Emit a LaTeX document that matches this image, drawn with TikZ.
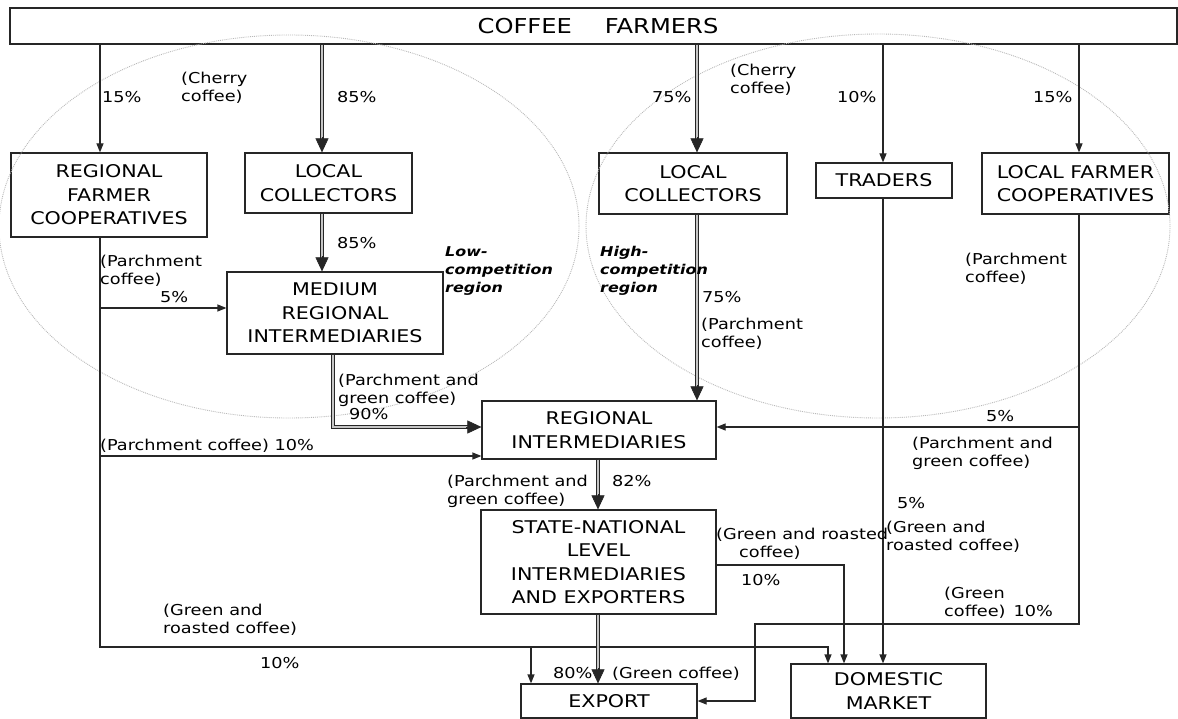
\documentclass[tikz,border=0pt]{standalone}
\usepackage{fontspec}
\setmainfont{DejaVu Sans}[FakeStretch=1.18]
\usetikzlibrary{arrows.meta,calc}
\definecolor{linec}{HTML}{262626}
\definecolor{txt}{HTML}{000000}
\newcommand{\boxfont}{\fontsize{17.5}{23.5}\selectfont}
\newcommand{\lblfont}{\fontsize{15}{18}\selectfont}
\newcommand{\regfont}{\fontsize{13.5}{18}\selectfont\bfseries\itshape}
\newcommand{\titlefont}{\fontsize{20.5}{24}\selectfont}
\tikzset{
  box/.style={draw=linec, line width=1.2pt, rectangle, align=center, inner sep=0pt, font=\boxfont, text=txt},
  lbl/.style={anchor=base west, align=left, inner sep=0pt, font=\lblfont, text=txt},
  reg/.style={lbl, font=\regfont},
  ln/.style={draw=linec, line width=1.2pt},
  arr/.style={ln, -{Triangle[width=7pt,length=9pt]}},
  dbl/.style={draw=linec, line width=1.4pt, double=gray!45, double distance=1.4pt},
  bigtip/.style={draw=linec, fill=linec, line width=0.6pt, -{Triangle[width=13pt,length=14pt]}},
  region/.style={draw=gray!55, densely dotted, line width=0.9pt}
}
\newcommand{\dblV}[3]{%
  \draw[dbl] (#1,0 |- #2) -- ($(#1,0 |- #3)+(0,-13)$);
  \draw[bigtip] ($(#1,0 |- #3)+(0,-15)$) -- (#1,0 |- #3);}
\begin{document}
\begin{tikzpicture}[x=1pt,y=-1pt]
\useasboundingbox (0,0) rectangle (1178,719);
% boxes
\node[box, minimum width=1167, minimum height=36, font=\titlefont] (top) at (593.5,26) {\hspace*{9pt}COFFEE\hspace{33pt}FARMERS};
\node[box, minimum width=196, minimum height=84] (rfc) at (109,195) {REGIONAL\\FARMER\\COOPERATIVES};
\node[box, minimum width=167, minimum height=60] (lcl) at (328.5,183) {LOCAL\\COLLECTORS};
\node[box, minimum width=216, minimum height=82] (mri) at (335,313) {MEDIUM\\REGIONAL\\INTERMEDIARIES};
\node[box, minimum width=188, minimum height=61] (lcr) at (693,183.5) {LOCAL\\COLLECTORS};
\node[box, minimum width=136, minimum height=35] (trd) at (884,180.5) {TRADERS};
\node[box, minimum width=187, minimum height=61] (lfc) at (1075.5,183.5) {LOCAL FARMER\\COOPERATIVES};
\node[box, minimum width=234, minimum height=58] (ri) at (599,430) {REGIONAL\\INTERMEDIARIES};
\node[box, minimum width=235, minimum height=104] (snl) at (598.5,562) {STATE-NATIONAL\\LEVEL\\INTERMEDIARIES\\AND EXPORTERS};
\node[box, minimum width=176, minimum height=34] (export) at (609,701) {EXPORT};
\node[box, minimum width=195, minimum height=54] (dom) at (888.5,691) {DOMESTIC\\MARKET};
% regions
\draw[region] (289,226.5) ellipse [x radius=290, y radius=191.5];
\draw[region] (878,226) ellipse [x radius=292, y radius=192];
% connectors left
\draw[arr] (100,0 |- top.south) -- (100,0 |- rfc.north);
\dblV{322}{top.south}{lcl.north}
\dblV{322}{lcl.south}{mri.north}
\draw[arr] (100,0 |- rfc.south) |- (828,647) -- (828,0 |- dom.north);
\draw[arr] (100,308) -- (mri.west |- 0,308);
\draw[arr] (100,456) -- (ri.west |- 0,456);
\draw[arr] (531,647) -- (531,0 |- export.north);
\draw[dbl] (333,0 |- mri.south) |- ($(ri.west |- 0,427)+(-13,0)$);
\draw[bigtip] ($(ri.west |- 0,427)+(-15,0)$) -- (ri.west |- 0,427);
% connectors right
\dblV{697}{top.south}{lcr.north}
\dblV{697}{lcr.south}{ri.north}
\draw[arr] (883,0 |- top.south) -- (883,0 |- trd.north);
\draw[arr] (883,0 |- trd.south) -- (883,0 |- dom.north);
\draw[arr] (1079,0 |- top.south) -- (1079,0 |- lfc.north);
\draw[arr] (1079,0 |- lfc.south) |- (755,624) |- (export.east |- 0,701);
\draw[arr] (1079,427) -- (ri.east |- 0,427);
\dblV{598}{ri.south}{snl.north}
\dblV{598}{snl.south}{export.north}
\draw[arr] (snl.east |- 0,565) -| (844,0 |- dom.north);
% labels (base = baseline of last line)
\node[lbl] at (102,103) {15\%};
\node[lbl] at (181,102) {(Cherry\\coffee)};
\node[lbl] at (337,103) {85\%};
\node[lbl] at (337,249) {85\%};
\node[lbl] at (100,285) {(Parchment\\coffee)};
\node[lbl] at (160,303) {5\%};
\node[reg] at (445,293) {Low-\\competition\\region};
\node[lbl] at (338,403) {(Parchment and\\green coffee)};
\node[lbl] at (349,419) {90\%};
\node[lbl] at (100,450) {(Parchment coffee) 10\%};
\node[lbl] at (730,94) {(Cherry\\coffee)};
\node[lbl] at (652,103) {75\%};
\node[lbl] at (837,103) {10\%};
\node[lbl] at (1033,103) {15\%};
\node[reg] at (600,293) {High-\\competition\\region};
\node[lbl] at (702,303) {75\%};
\node[lbl] at (701,348) {(Parchment\\coffee)};
\node[lbl] at (965,283) {(Parchment\\coffee)};
\node[lbl] at (986,421) {5\%};
\node[lbl] at (912,466) {(Parchment and\\green coffee)};
\node[lbl] at (447,504) {(Parchment and\\green coffee)};
\node[lbl] at (612,486) {82\%};
\node[lbl] at (716,557) {(Green and roasted\\\hspace*{23pt}coffee)};
\node[lbl] at (741,585) {10\%};
\node[lbl] at (897,508) {5\%};
\node[lbl] at (886,550) {(Green and\\roasted coffee)};
\node[lbl] at (944,616) {(Green\\coffee)\hspace{8pt}10\%};
\node[lbl] at (163,633) {(Green and\\roasted coffee)};
\node[lbl] at (260,668) {10\%};
\node[lbl] at (553,678) {80\%};
\node[lbl] at (612,678) {(Green coffee)};
\end{tikzpicture}
\end{document}
